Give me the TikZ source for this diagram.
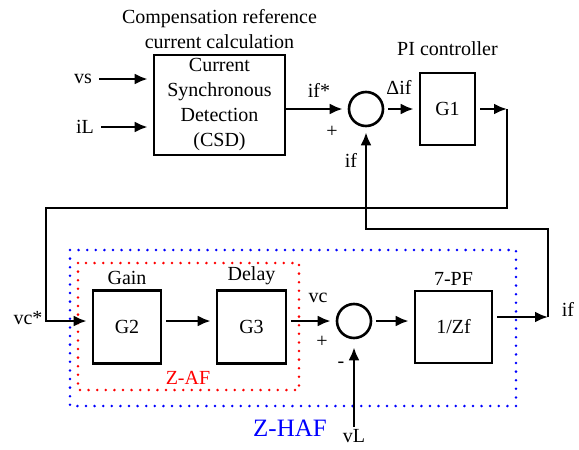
\documentclass[tikz,border=0pt]{standalone}
\usepackage{fontspec}
\setmainfont{Liberation Serif}
\usepackage{tikz}
\usetikzlibrary{arrows.meta,positioning,calc}
\definecolor{HAFblue}{RGB}{0,0,255}
\definecolor{AFred}{RGB}{255,0,0}
\tikzstyle{blk}    = [rectangle, draw, line width=2.6pt, align=center, inner sep=2pt]
\tikzstyle{sumc}   = [circle, draw, line width=2.6pt, minimum size=34pt, inner sep=0pt]
\tikzstyle{lbl}    = [inner sep=1pt, align=center]
\tikzstyle{sig}    = [->, line width=2.8pt, shorten <=4pt, shorten >=5pt]
\tikzstyle{dotbox} = [line width=2.8pt, dash pattern=on 0pt off 8.6pt, line cap=round]

\begin{document}
\begin{tikzpicture}[x=1pt, y=-1pt, >={Latex[length=13pt,width=11pt]}, font=\fontsize{20}{25}\selectfont]
  \useasboundingbox (0,0) rectangle (579,450);

  \draw[dotbox, draw=HAFblue] (70,250) rectangle (516,406);
  \draw[dotbox, draw=AFred] (78,263) rectangle (299,390);

  \node[blk, minimum width=131pt, minimum height=100pt] (csd) at (219.5,105) {Current\\Synchronous\\Detection\\(CSD)};
  \node[lbl, above=4pt of csd] (title) {Compensation reference\\current calculation};
  \node[sumc] (sum1) at (366,109) {};
  \node[blk, minimum width=55pt, minimum height=72pt] (g1) at (447.5,109) {G1};
  \node[lbl, above=15pt of g1] (pilbl) {PI controller};

  \node[blk, minimum width=68pt, minimum height=73pt] (g2) at (127,327) {G2};
  \node[blk, minimum width=69pt, minimum height=73pt] (g3) at (251.5,327) {G3};
  \node[sumc] (sum2) at (354,321) {};
  \node[blk, minimum width=77pt, minimum height=72pt] (zf) at (453.5,327) {1/Zf};
  \node[lbl, above=3pt of g2] (gainlbl) {Gain};
  \node[lbl, above=3pt of g3] (delaylbl) {Delay};
  \node[lbl, above=3pt of zf] (pflbl) {7-PF};

  \node[lbl] (vs) at (83,79) {vs};
  \node[lbl] (il) at (85,127) {iL};
  \coordinate (pio) at (507,109);
  \coordinate (tl) at (46,208);
  \coordinate (ifo) at (548,317);
  \coordinate (fb) at (548,229);
  \coordinate (vlin) at (354,427);

  \draw[sig, shorten <=6pt] (vs) -- (vs -| csd.west);
  \draw[sig, shorten <=6pt] (il) -- (il -| csd.west);
  \draw[sig, shorten <=0pt] (csd.east |- sum1) -- (sum1);
  \draw[sig] (sum1) -- (g1);
  \draw[sig, shorten >=0pt] (g1) -- (pio);
  \draw[sig, shorten <=0pt] (pio) |- (tl) |- ([yshift=6pt]g2.west);
  \draw[sig] ([yshift=6pt]g2.east) -- ([yshift=6pt]g3.west);
  \draw[sig] ([yshift=6pt]g3.east) -- (sum2);
  \draw[sig] (sum2) -- ([yshift=6pt]zf.west);
  \draw[sig, shorten >=0pt] ([yshift=10pt]zf.east) -- (ifo);
  \draw[sig, shorten <=0pt] (ifo) -- (fb) -| (sum1.south);
  \draw[sig, shorten <=0pt, shorten >=8pt] (vlin) -- (sum2.south);

  \node[lbl] at (319,90) {if*};
  \node[lbl] at (332,132) {+};
  \node[lbl] at (399,87) {Δif};
  \node[lbl] at (351,160) {if};
  \node[lbl] at (28,318) {vc*};
  \node[lbl] at (318,298) {vc};
  \node[lbl] at (322,342) {+};
  \node[lbl] at (341,365) {-};
  \node[lbl, below=1pt of vlin] (vllbl) {vL};
  \node[lbl] at (568,309) {if};
  \node[lbl, text=AFred] at (188,378) {Z-AF};
  \node[lbl, text=HAFblue, font=\fontsize{25}{30}\selectfont] at (290,428) {Z-HAF};
\end{tikzpicture}
\end{document}
